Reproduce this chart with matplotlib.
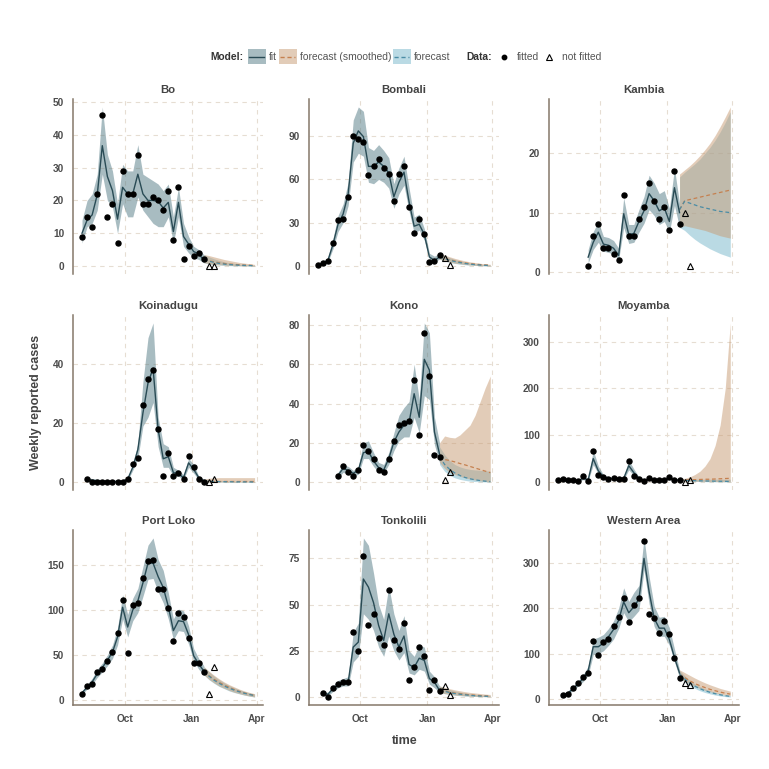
"""
Weekly reported Ebola cases by district (Sierra Leone): model fit, two
forecast variants and the observed counts, one panel per district.
Writes out.png.
"""
import numpy as np
import matplotlib
matplotlib.use("Agg")
import matplotlib.pyplot as plt
from matplotlib.patches import Rectangle
from matplotlib.lines import Line2D

plt.rcParams["font.family"] = ["Liberation Sans", "DejaVu Sans"]

# ---- data -------------------------------------------------------------------
FIRST_WEEK = np.datetime64("2014-08-03")   # week index 0
FIT_END = 24                               # last fitted week (2015-01-18)
FC_WEEKS = np.arange(24, 35)               # forecast weeks
NF_WEEKS = np.array([25, 26])              # data not used in the fit

DISTRICTS = ["Bo", "Bombali", "Kambia", "Koinadugu", "Kono", "Moyamba",
             "Port Loko", "Tonkolili", "Western Area"]
START = [0, 0, 6, 1, 4, 0, 0, 1, 1]
YTICKS = [[0, 10, 20, 30, 40, 50], [0, 30, 60, 90], [0, 10, 20], [0, 20, 40],
          [0, 20, 40, 60, 80], [0, 100, 200, 300], [0, 50, 100, 150],
          [0, 25, 50, 75], [0, 100, 200, 300]]

# Bo
BO_OBS = [9, 15, 12, 22, 46, 15, 19, 7, 29, 22, 22, 34, 19, 19, 21, 20, 17, 23, 8, 24, 2, 6, 3, 4, 2]
BO_FIT = [10, 14, 15.6, 21.7, 36.7, 27.3, 23, 14.3, 24, 22, 22, 28, 22, 20, 20, 19.7, 17.7, 19.4, 10.5, 19.4, 9, 6.7, 4.4, 3.7, 1.8]
BO_LO = [7, 12, 13, 17, 28, 20, 18, 10, 19, 15, 15, 21, 17, 15, 13, 12, 12, 15, 7, 15, 6, 4, 2.5, 2, 1]
BO_HI = [14, 20, 22, 28, 48.5, 34, 29, 19, 31, 29, 29, 37, 28, 27, 26, 25, 23, 25, 15, 24, 13, 9, 6, 5, 3.5]
BO_NF = [0, 0]
BO_SM = [2, 1.6, 1.3, 1.0, 0.8, 0.6, 0.5, 0.4, 0.3, 0.25, 0.2]
BO_SM_LO = [1, 0.7, 0.5, 0.4, 0.3, 0.2, 0.15, 0.1, 0.05, 0.03, 0.02]
BO_SM_HI = [3.5, 3.2, 2.8, 2.4, 2.0, 1.7, 1.4, 1.1, 0.9, 0.7, 0.5]
BO_FC = [2, 1.5, 1.1, 0.8, 0.6, 0.45, 0.35, 0.25, 0.2, 0.15, 0.1]
BO_FC_LO = [1, 0.6, 0.4, 0.3, 0.2, 0.1, 0.08, 0.05, 0.03, 0.02, 0.01]
BO_FC_HI = [3.5, 2.8, 2.2, 1.7, 1.3, 1.0, 0.8, 0.6, 0.45, 0.35, 0.25]

# Bombali
BOM_OBS = [1, 2, 4, 16, 32, 33, 48, 90, 88, 86, 63, 69, 74, 68, 64, 45, 64, 69, 41, 23, 33, 22, 3, 4, 8]
BOM_FIT = [1, 2, 4, 15, 29, 36, 50, 85, 93.5, 89.5, 69, 69, 72, 69, 64.5, 48, 58, 65, 44.5, 27.7, 29, 22, 6.5, 4, 6.5]
BOM_LO = [0.3, 1, 3, 12, 24, 30, 42, 72, 78, 76, 58, 57, 60, 58, 54, 40, 50, 56, 38, 23, 25, 18, 5, 3, 5]
BOM_HI = [2, 3, 6, 19, 35, 43, 58, 101, 110, 107, 82, 80, 84, 80, 75, 57, 68, 76, 54, 34, 36, 26, 9, 7, 9]
BOM_NF = [6, 1]
BOM_SM = [6.5, 5.5, 4.5, 3.7, 3.0, 2.4, 1.9, 1.5, 1.2, 1.0, 0.8]
BOM_SM_LO = [5, 3.8, 2.9, 2.2, 1.7, 1.3, 1.0, 0.7, 0.5, 0.4, 0.3]
BOM_SM_HI = [9, 7.8, 6.6, 5.5, 4.6, 3.8, 3.1, 2.6, 2.1, 1.7, 1.4]
BOM_FC = [6.5, 5.3, 4.2, 3.3, 2.6, 2.0, 1.5, 1.2, 0.9, 0.7, 0.5]
BOM_FC_LO = [5, 3.7, 2.7, 2.0, 1.5, 1.1, 0.8, 0.6, 0.4, 0.3, 0.2]
BOM_FC_HI = [9, 7.4, 6.0, 4.8, 3.8, 3.0, 2.4, 1.9, 1.5, 1.2, 0.9]

# Kambia
KAM_OBS = [1, 6, 8, 4, 4, 3, 2, 13, 6, 6, 9, 11, 15, 12, 9, 11, 7, 17, 8]
KAM_FIT = [2.5, 5, 6.7, 4.7, 4.5, 4, 2.8, 9.8, 6.3, 6.5, 8.5, 10.3, 13.2, 12, 10.3, 10.8, 8.5, 14.2, 10]
KAM_LO = [1.5, 3.8, 5, 3.5, 3.3, 3, 2, 7.5, 4.8, 5, 6.7, 8.2, 10.5, 9.5, 8, 8.5, 6.7, 11.2, 7.5]
KAM_HI = [3.8, 6.8, 8.5, 6, 5.8, 5.3, 4, 12.5, 8, 8, 10.5, 12.7, 16.3, 15, 13.2, 13.7, 10.7, 17.5, 11.5]
KAM_NF = [10, 1]
KAM_SM = [10.5, 12.0, 12.2, 12.4, 12.6, 12.8, 13.0, 13.2, 13.4, 13.6, 13.8]
KAM_SM_LO = [7.5, 7.8, 7.6, 7.4, 7.2, 7.0, 6.7, 6.4, 6.1, 5.9, 5.7]
KAM_SM_HI = [16.5, 17.2, 17.9, 18.7, 19.6, 20.6, 21.7, 23.0, 24.5, 26.1, 27.8]
KAM_FC = [10.5, 11.9, 11.6, 11.3, 11.0, 10.8, 10.6, 10.4, 10.2, 10.1, 10.0]
KAM_FC_LO = [7.5, 7.0, 6.2, 5.5, 4.9, 4.4, 3.9, 3.5, 3.1, 2.8, 2.5]
KAM_FC_HI = [16, 16.8, 17.5, 18.2, 19, 20, 21, 22.2, 23.6, 25.2, 27]

# Koinadugu
KOI_OBS = [1, 0, 0, 0, 0, 0, 0, 0, 1, 6, 8, 26, 35, 38, 18, 2, 10, 2, 3, 1, 9, 5, 1, 0]
KOI_FIT = [1, 0.6, 0.4, 0.3, 0.3, 0.2, 0.2, 0.3, 1, 5, 11, 23.4, 33.6, 38.6, 17.8, 7.9, 8.6, 3.2, 2.8, 1.5, 6.5, 4.3, 1.5, 0.3]
KOI_LO = [0.3, 0.1, 0, 0, 0, 0, 0, 0.1, 0.5, 4, 8, 19, 22, 27, 12, 5, 5, 2, 2, 0.8, 5, 3, 0.8, 0.1]
KOI_HI = [1.5, 1.2, 1, 0.8, 0.7, 0.6, 0.6, 0.8, 1.5, 6, 13, 34, 49, 54, 22, 13, 12, 5, 4, 2.5, 8, 6, 2, 1]
KOI_NF = [0, 1]
KOI_SM = [0.3, 0.3, 0.3, 0.3, 0.3, 0.3, 0.3, 0.3, 0.3, 0.3, 0.3]
KOI_SM_LO = [0, 0, 0, 0, 0, 0, 0, 0, 0, 0, 0]
KOI_SM_HI = [1, 1.3, 1.4, 1.5, 1.5, 1.5, 1.5, 1.5, 1.5, 1.5, 1.5]
KOI_FC = [0.3, 0.25, 0.2, 0.15, 0.1, 0.1, 0.05, 0.05, 0.05, 0.03, 0.03]
KOI_FC_LO = [0, 0, 0, 0, 0, 0, 0, 0, 0, 0, 0]
KOI_FC_HI = [1, 0.8, 0.6, 0.5, 0.4, 0.3, 0.3, 0.2, 0.2, 0.2, 0.2]

# Kono
KON_OBS = [3, 8, 5, 3, 6, 19, 16, 12, 6, 5, 12, 21, 29, 30, 31, 52, 24, 76, 54, 14, 13]
KON_FIT = [3.5, 7, 6, 4.5, 6, 15, 15.6, 10.8, 7.4, 6.2, 12, 20.3, 25.5, 29, 30.3, 45, 33, 62.5, 57, 25.5, 14.3]
KON_LO = [2, 5, 4, 3, 4, 12, 12, 8, 5, 4.5, 9, 16, 21, 23, 23, 33, 25, 44, 42, 19, 10]
KON_HI = [5, 9, 8, 6, 8, 20, 21, 15, 10, 9, 15, 25, 34, 38, 41, 60, 42, 81, 76, 33, 20]
KON_NF = [1, 5]
KON_SM = [13, 11.5, 11, 10.3, 9.5, 8.8, 8, 7.2, 6.4, 5.6, 4.8]
KON_SM_LO = [10, 7, 5, 4, 3, 2.2, 1.6, 1.1, 0.7, 0.4, 0.2]
KON_SM_HI = [20, 23.5, 22.8, 22.5, 24, 26.5, 29, 34, 41, 48, 54]
KON_FC = [13, 9, 6.5, 4.7, 3.4, 2.4, 1.7, 1.2, 0.8, 0.5, 0.3]
KON_FC_LO = [9, 5.5, 3.5, 2.2, 1.4, 0.9, 0.5, 0.3, 0.2, 0.1, 0.05]
KON_FC_HI = [18, 14, 11, 9, 7.8, 7, 6.5, 6.2, 6, 5.8, 5.6]

# Moyamba
MOY_OBS = [5, 6, 5, 4, 2, 12, 3, 66, 14, 10, 6, 8, 7, 7, 45, 12, 6, 2, 9, 4, 5, 5, 10, 4, 4]
MOY_FIT = [5, 5, 5, 4, 3, 8, 5, 50, 24, 11.5, 8, 7, 7, 8, 35, 20, 8, 4, 6, 5, 5, 5, 7, 5, 4]
MOY_LO = [3, 3.5, 3, 2.5, 2, 5, 3, 37, 18, 8, 5.5, 5, 5, 5.5, 26, 14, 5.5, 2.5, 4, 3.5, 3.5, 3.5, 5, 3.5, 2.5]
MOY_HI = [7, 7, 7, 6, 5, 11, 8, 68, 34, 16, 11, 10, 10, 11, 47, 28, 11, 6, 9, 7, 7, 7, 10, 7, 6]
MOY_NF = [0, 5]
MOY_SM = [4, 4.5, 5, 5, 5.5, 6, 6, 6.5, 7, 7.5, 8]
MOY_SM_LO = [2.5, 2.3, 2, 1.8, 1.6, 1.4, 1.2, 1, 0.9, 0.8, 0.7]
MOY_SM_HI = [6, 8, 11, 16, 23, 34, 50, 78, 122, 200, 340]
MOY_FC = [4, 3.6, 3.2, 2.9, 2.6, 2.3, 2.1, 1.9, 1.7, 1.5, 1.3]
MOY_FC_LO = [2.5, 2, 1.6, 1.3, 1, 0.8, 0.6, 0.5, 0.4, 0.3, 0.2]
MOY_FC_HI = [6, 6, 6, 6, 6, 6, 6, 6, 6, 6, 6]

# Port Loko
POR_OBS = [7, 16, 18, 31, 34, 43, 53, 74, 111, 52, 105, 108, 135, 154, 155, 123, 123, 102, 66, 97, 92, 69, 41, 41, 31]
POR_FIT = [8, 14, 20, 29, 36, 44, 53, 70, 103, 81, 100, 110, 130, 152, 152, 137, 125, 104, 77, 88, 87, 72.5, 49, 40, 32]
POR_LO = [6, 12, 17, 25, 31, 38, 46, 61, 90, 70, 88, 97, 115, 134, 135, 120, 108, 90, 67, 77, 76, 62, 43, 34, 28]
POR_HI = [10, 17, 24, 34, 41, 50, 61, 80, 117, 95, 113, 124, 148, 172, 180, 156, 144, 119, 90, 101, 99, 82, 57, 46, 38]
POR_NF = [7, 37]
POR_SM = [32, 27, 23, 19.5, 16.5, 14, 11.5, 9.5, 7.8, 6.3, 5]
POR_SM_LO = [28, 23, 19, 15.5, 13, 10.5, 8.5, 7, 5.5, 4.3, 3.3]
POR_SM_HI = [37, 32, 27.5, 23.5, 20, 17, 14.5, 12, 10, 8.3, 7]
POR_FC = [32, 26.5, 22, 18.5, 15.5, 13, 10.8, 9, 7.4, 6, 4.8]
POR_FC_LO = [28, 22.5, 18.5, 15, 12.5, 10, 8.2, 6.7, 5.3, 4.2, 3.2]
POR_FC_HI = [37, 31.5, 26.5, 22.5, 19, 16, 13.5, 11.3, 9.4, 7.8, 6.5]

# Tonkolili
TON_OBS = [2, 0, 5, 7, 8, 8, 35, 25, 76, 39, 45, 32, 28, 58, 31, 26, 40, 9, 16, 27, 22, 4, 9, 3]
TON_FIT = [2, 1.5, 4.5, 6.5, 7.5, 8, 27, 29.7, 63.8, 59.4, 51, 38.7, 30.6, 45, 34, 27, 33, 17.6, 16, 21, 19.8, 10, 8, 3.6]
TON_LO = [1, 0.5, 3, 5, 6, 6, 19, 22, 45, 42, 36, 27, 22, 33, 25, 20, 24, 13, 12, 15, 14, 7, 5, 2.5]
TON_HI = [3, 2.5, 6, 9, 10, 11, 35, 40, 86, 82, 67, 50, 42, 60, 45, 36, 44, 25, 22, 28, 27, 14, 11, 6]
TON_NF = [6, 1]
TON_SM = [4, 3.3, 2.7, 2.2, 1.8, 1.5, 1.2, 1.0, 0.8, 0.65, 0.5]
TON_SM_LO = [2.5, 1.9, 1.5, 1.1, 0.85, 0.65, 0.5, 0.4, 0.3, 0.22, 0.15]
TON_SM_HI = [6, 5.2, 4.5, 3.9, 3.4, 2.9, 2.5, 2.2, 1.9, 1.6, 1.4]
TON_FC = [4, 3.1, 2.4, 1.9, 1.5, 1.2, 0.9, 0.7, 0.55, 0.43, 0.33]
TON_FC_LO = [2.5, 1.8, 1.3, 1.0, 0.75, 0.55, 0.4, 0.3, 0.22, 0.16, 0.12]
TON_FC_HI = [6, 4.9, 4.0, 3.3, 2.7, 2.2, 1.8, 1.5, 1.2, 1.0, 0.8]

# Western Area
WES_OBS = [8, 11, 25, 34, 48, 57, 128, 96, 125, 131, 161, 180, 223, 169, 206, 223, 349, 187, 178, 146, 172, 143, 90, 47]
WES_FIT = [8, 13, 22, 33, 45, 62, 115, 115, 123, 137, 153, 173, 214, 190, 203, 220, 310, 237, 178, 156, 156, 131, 91, 57]
WES_LO = [6, 10, 18, 28, 38, 52, 98, 100, 106, 118, 132, 155, 190, 170, 182, 195, 285, 210, 160, 138, 138, 118, 82, 47]
WES_HI = [10, 16, 27, 39, 53, 72, 132, 136, 142, 155, 172, 200, 245, 215, 235, 250, 355, 270, 205, 180, 182, 157, 110, 64]
WES_NF = [35, 30]
WES_SM = [55, 47, 40, 34, 29, 25, 21, 18, 15, 12.5, 10.5]
WES_SM_LO = [47, 39, 33, 27.5, 23, 19, 16, 13, 10.5, 8.5, 7]
WES_SM_HI = [64, 58, 52, 46, 40.5, 35.5, 31, 27, 23, 20, 17]
WES_FC = [55, 44, 35, 28, 22.5, 18, 14.5, 11.5, 9, 7, 5.5]
WES_FC_LO = [47, 37, 29, 23, 18, 14, 11, 8.5, 6.5, 5, 4]
WES_FC_HI = [63, 51, 41, 33, 27, 22, 18, 14.5, 11.5, 9, 7]

PANELS = [
    (BO_OBS, BO_FIT, BO_LO, BO_HI, BO_NF, BO_SM, BO_SM_LO, BO_SM_HI, BO_FC, BO_FC_LO, BO_FC_HI),
    (BOM_OBS, BOM_FIT, BOM_LO, BOM_HI, BOM_NF, BOM_SM, BOM_SM_LO, BOM_SM_HI, BOM_FC, BOM_FC_LO, BOM_FC_HI),
    (KAM_OBS, KAM_FIT, KAM_LO, KAM_HI, KAM_NF, KAM_SM, KAM_SM_LO, KAM_SM_HI, KAM_FC, KAM_FC_LO, KAM_FC_HI),
    (KOI_OBS, KOI_FIT, KOI_LO, KOI_HI, KOI_NF, KOI_SM, KOI_SM_LO, KOI_SM_HI, KOI_FC, KOI_FC_LO, KOI_FC_HI),
    (KON_OBS, KON_FIT, KON_LO, KON_HI, KON_NF, KON_SM, KON_SM_LO, KON_SM_HI, KON_FC, KON_FC_LO, KON_FC_HI),
    (MOY_OBS, MOY_FIT, MOY_LO, MOY_HI, MOY_NF, MOY_SM, MOY_SM_LO, MOY_SM_HI, MOY_FC, MOY_FC_LO, MOY_FC_HI),
    (POR_OBS, POR_FIT, POR_LO, POR_HI, POR_NF, POR_SM, POR_SM_LO, POR_SM_HI, POR_FC, POR_FC_LO, POR_FC_HI),
    (TON_OBS, TON_FIT, TON_LO, TON_HI, TON_NF, TON_SM, TON_SM_LO, TON_SM_HI, TON_FC, TON_FC_LO, TON_FC_HI),
    (WES_OBS, WES_FIT, WES_LO, WES_HI, WES_NF, WES_SM, WES_SM_LO, WES_SM_HI, WES_FC, WES_FC_LO, WES_FC_HI),
]

XTICKS = [np.datetime64("2014-10-01"), np.datetime64("2015-01-01"), np.datetime64("2015-04-01")]
XTICKLABELS = ["Oct", "Jan", "Apr"]
XLIM = (np.datetime64("2014-07-22"), np.datetime64("2015-04-10"))

# ---- style ------------------------------------------------------------------
FIT_FILL, FIT_LINE = "#537a85", "#294b55"
SM_FILL, SM_LINE = "#c79b73", "#c5804f"
FC_FILL, FC_LINE = "#77b7cb", "#4a8ca5"
GRID_C, SPINE_C, TICK_C, TXT_C = "#e6ddd2", "#85786a", "#4d4d4d", "#444444"

W = H = 769
fig = plt.figure(figsize=(W / 100, H / 100), dpi=100)

COL_LEFT = [73.3, 309, 549]
ROW_TOP = [99, 315, 530]
PW, PH = 190, 175

for k, (obs, fit, lo, hi, nf, sm, sm_lo, sm_hi, fc, fc_lo, fc_hi) in enumerate(PANELS):
    r, c = divmod(k, 3)
    ax = fig.add_axes([COL_LEFT[c] / W, 1 - (ROW_TOP[r] + PH) / H, PW / W, PH / H])
    wk = FIRST_WEEK + 7 * np.arange(START[k], FIT_END + 1)
    fw = FIRST_WEEK + 7 * FC_WEEKS
    nw = FIRST_WEEK + 7 * NF_WEEKS

    ax.fill_between(fw, fc_lo, fc_hi, color=FC_FILL, alpha=0.5, lw=0, zorder=1)
    ax.fill_between(fw, sm_lo, sm_hi, color=SM_FILL, alpha=0.5, lw=0, zorder=1)
    ax.fill_between(wk, lo, hi, color=FIT_FILL, alpha=0.5, lw=0, zorder=1)
    ax.plot(fw, sm, color=SM_LINE, ls=(0, (3, 2.2)), lw=0.9, zorder=2)
    ax.plot(fw, fc, color=FC_LINE, ls=(0, (3, 2.2)), lw=0.9, zorder=2)
    ax.plot(wk, fit, color=FIT_LINE, lw=1.0, zorder=3)
    ax.plot(wk, obs, "o", color="black", ms=3.6, zorder=4)
    ax.plot(nw, nf, "^", mfc="none", mec="black", mew=0.8, ms=5, zorder=4)

    ax.margins(y=0.05)
    ax.set_xlim(*XLIM)
    yt = YTICKS[k]
    ax.set_yticks(yt, labels=[str(t) for t in yt], fontweight="bold")
    if r == 2:
        ax.set_xticks(XTICKS, labels=XTICKLABELS, fontweight="bold")
    else:
        ax.set_xticks(XTICKS, labels=[])
    ax.tick_params(length=0, labelsize=7.3, labelcolor=TICK_C, pad=6.5)
    ax.grid(True, ls=(0, (4, 4)), color=GRID_C, lw=0.8)
    ax.set_axisbelow(True)
    for s in ["top", "right"]:
        ax.spines[s].set_visible(False)
    ax.spines["left"].set_color(SPINE_C)
    ax.spines["left"].set_linewidth(1.1)
    if r == 2:
        ax.spines["bottom"].set_color(SPINE_C)
        ax.spines["bottom"].set_linewidth(1.1)
    else:
        ax.spines["bottom"].set_visible(False)
    ax.set_title(DISTRICTS[k], fontsize=8.2, fontweight="bold", color=TXT_C, pad=4)

# ---- axis titles and legend (pixel overlay) ----------------------------------
lax = fig.add_axes([0, 0, 1, 1])
lax.set_xlim(0, W)
lax.set_ylim(H, 0)
lax.axis("off")

lax.text(36, 402, "Weekly reported cases", rotation=90, ha="center", va="center",
         fontsize=9, fontweight="bold", color=TXT_C)
lax.text(405, 741, "time", ha="center", va="center",
         fontsize=9, fontweight="bold", color=TXT_C)

ly = 56.5
LEG_FS = 7.4
lax.text(210.7, ly, "Model:", ha="left", va="center", fontsize=LEG_FS, fontweight="bold", color="#333333")
for x0, fill, line, ls, lab in [(247.7, FIT_FILL, FIT_LINE, "-", "fit"),
                                (278.7, SM_FILL, SM_LINE, (0, (3, 2)), "forecast (smoothed)"),
                                (392.7, FC_FILL, FC_LINE, (0, (3, 2)), "forecast")]:
    lax.add_patch(Rectangle((x0, ly - 7.3), 18, 14.6, color=fill, alpha=0.5, lw=0))
    lax.add_line(Line2D([x0 + 1.5, x0 + 16.5], [ly, ly], color=line, ls=ls, lw=1.0))
    lax.text(x0 + 21, ly, lab, ha="left", va="center", fontsize=LEG_FS, color="#555555")
lax.text(466.7, ly, "Data:", ha="left", va="center", fontsize=LEG_FS, fontweight="bold", color="#333333")
lax.plot([504], [ly], "o", color="black", ms=3.2)
lax.text(517, ly, "fitted", ha="left", va="center", fontsize=LEG_FS, color="#555555")
lax.plot([549], [ly], "^", mfc="none", mec="black", mew=0.8, ms=4.5)
lax.text(562, ly, "not fitted", ha="left", va="center", fontsize=LEG_FS, color="#555555")

fig.savefig("out.png", dpi=100)
